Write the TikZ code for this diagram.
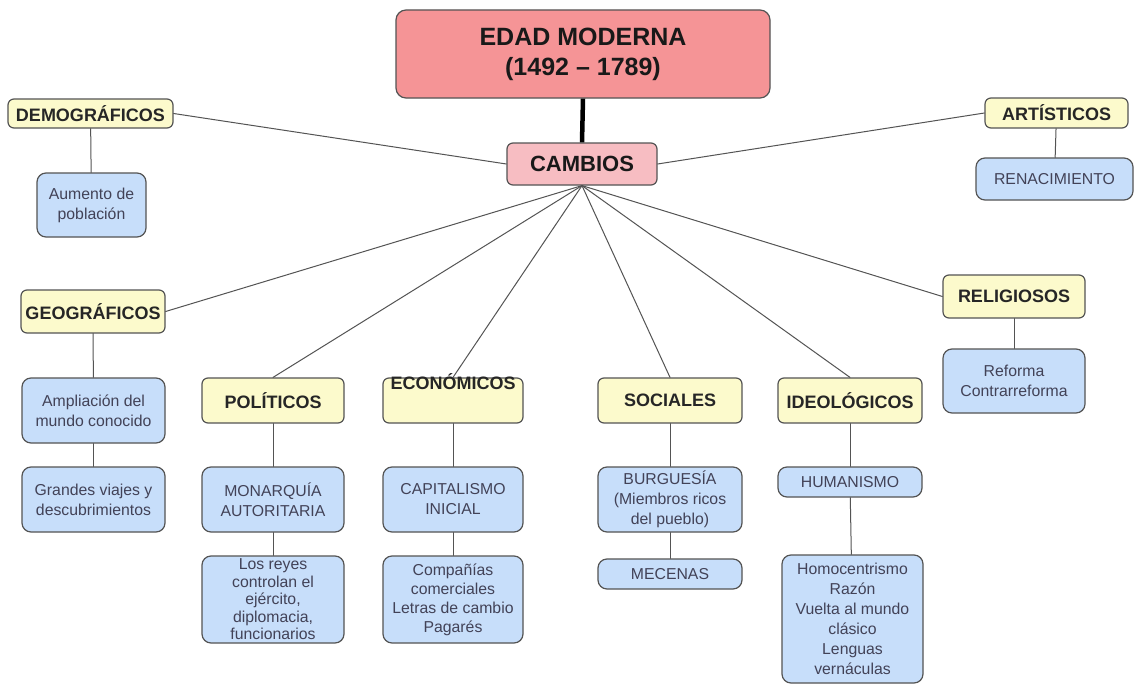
\documentclass[tikz,border=0pt]{standalone}
\usepackage{fontspec}
\setmainfont{Liberation Sans}
\usepackage{tikz}
\definecolor{ffaaaa}{rgb}{0.96,0.58,0.59}
\definecolor{ffcccc}{rgb}{0.97,0.74,0.76}
\definecolor{ffffcc}{rgb}{0.99,0.98,0.80}
\definecolor{cceeff}{rgb}{0.78,0.87,0.98}
\definecolor{uuuuuu}{rgb}{0.33,0.33,0.33}
\definecolor{zzzzww}{rgb}{0.26,0.26,0.34}
\tikzstyle{every node}=[font=\fontsize{15.8}{20}\selectfont,align=center,text=zzzzww]
\tikzstyle{caja}=[draw=uuuuuu,line width=1.2pt,inner sep=0pt]
\tikzstyle{titulo}=[caja,fill=ffaaaa,rounded corners=10pt,text=black!90,font=\bfseries\fontsize{25}{30}\selectfont]
\tikzstyle{cambio}=[caja,fill=ffcccc,rounded corners=6pt,text=black!90,font=\bfseries\fontsize{22}{26}\selectfont]
\tikzstyle{cabecera}=[caja,fill=ffffcc,rounded corners=6pt,text=black!85,font=\bfseries\fontsize{18}{22}\selectfont]
\tikzstyle{hoja}=[caja,fill=cceeff,rounded corners=9pt]
\tikzstyle{rama}=[uuuuuu,line width=1pt]
\begin{document}
\begin{tikzpicture}[line cap=round,line join=round,x=1pt,y=-1pt]
\useasboundingbox [fill=white] (0,0) rectangle (1135,685);
% titulo y cambios
\node [titulo,minimum width=374pt,minimum height=88pt] (edad) at (583,54) {EDAD MODERNA\\(1492 – 1789)};
\node [cambio,minimum width=150pt,minimum height=42pt] (cambios) at (582,164) {CAMBIOS};
% cabeceras
\node [cabecera,minimum width=165pt,minimum height=29pt] (demo) at (90.5,113.5) {DEMOGRÁFICOS};
\node [cabecera,minimum width=143pt,minimum height=30pt] (artis) at (1056.5,113) {ARTÍSTICOS};
\node [cabecera,minimum width=144pt,minimum height=43pt] (geo) at (93,311.5) {GEOGRÁFICOS};
\node [cabecera,minimum width=142pt,minimum height=45pt] (poli) at (273,400.5) {POLÍTICOS};
\node [cabecera,minimum width=140pt,text height=11.5pt,text depth=33.5pt] (econ) at (453,400.5) {ECONÓMICOS};
\node [cabecera,minimum width=144pt,minimum height=45pt] (soci) at (670,400.5) {SOCIALES};
\node [cabecera,minimum width=144pt,minimum height=45pt] (ideo) at (850,400.5) {IDEOLÓGICOS};
\node [cabecera,minimum width=142pt,minimum height=43pt] (relig) at (1014,296.5) {RELIGIOSOS};
% hojas
\node [hoja,minimum width=109pt,minimum height=64pt] (aumento) at (91.5,205) {Aumento de\\población};
\node [hoja,minimum width=157pt,minimum height=42pt] (renac) at (1054.5,179) {RENACIMIENTO};
\node [hoja,minimum width=143pt,minimum height=65pt] (ampl) at (93.5,410.5) {Ampliación del\\mundo conocido};
\node [hoja,minimum width=143pt,minimum height=65pt] (viajes) at (93.5,499.5) {Grandes viajes y\\descubrimientos};
\node [hoja,minimum width=142pt,minimum height=65pt] (monar) at (273,499.5) {MONARQUÍA\\AUTORITARIA};
\node [hoja,minimum width=142pt,minimum height=87pt,font=\fontsize{15.8}{17.5}\selectfont] (reyes) at (273,599.5) {Los reyes\\controlan el\\ejército,\\diplomacia,\\funcionarios};
\node [hoja,minimum width=140pt,minimum height=65pt] (capit) at (453,499.5) {CAPITALISMO\\INICIAL};
\node [hoja,minimum width=140pt,minimum height=87pt,font=\fontsize{15.8}{19}\selectfont] (compa) at (453,599.5) {Compañías\\comerciales\\Letras de cambio\\Pagarés};
\node [hoja,minimum width=144pt,minimum height=65pt] (burg) at (670,499.5) {BURGUESÍA\\(Miembros ricos\\del pueblo)};
\node [hoja,minimum width=144pt,minimum height=30pt] (mecen) at (670,574) {MECENAS};
\node [hoja,minimum width=144pt,minimum height=30pt] (human) at (850,482) {HUMANISMO};
\node [hoja,minimum width=141pt,minimum height=128pt] (homo) at (852.5,619) {Homocentrismo\\Razón\\Vuelta al mundo\\clásico\\Lenguas\\vernáculas};
\node [hoja,minimum width=142pt,minimum height=64pt] (reforma) at (1014,381) {Reforma\\Contrarreforma};
% conectores
\draw [line width=4.5pt,line cap=butt] (edad.south) -- (cambios.north);
\draw [rama] (demo.east) -- (cambios.west);
\draw [rama] (cambios.east) -- (artis.west);
\draw [rama] (cambios.south) -- (geo.east);
\draw [rama] (cambios.south) -- (poli.north);
\draw [rama] (cambios.south) -- (econ.north);
\draw [rama] (cambios.south) -- (soci.north);
\draw [rama] (cambios.south) -- (ideo.north);
\draw [rama] (cambios.south) -- (relig.west);
\draw [rama] (demo) -- (aumento);
\draw [rama] (artis) -- (renac);
\draw [rama] (geo) -- (ampl);
\draw [rama] (ampl) -- (viajes);
\draw [rama] (poli) -- (monar);
\draw [rama] (monar) -- (reyes);
\draw [rama] (econ.south) -- (capit);
\draw [rama] (capit) -- (compa);
\draw [rama] (soci) -- (burg);
\draw [rama] (burg) -- (mecen);
\draw [rama] (ideo) -- (human);
\draw [rama] (human) -- (homo);
\draw [rama] (relig) -- (reforma);
\end{tikzpicture}
\end{document}
